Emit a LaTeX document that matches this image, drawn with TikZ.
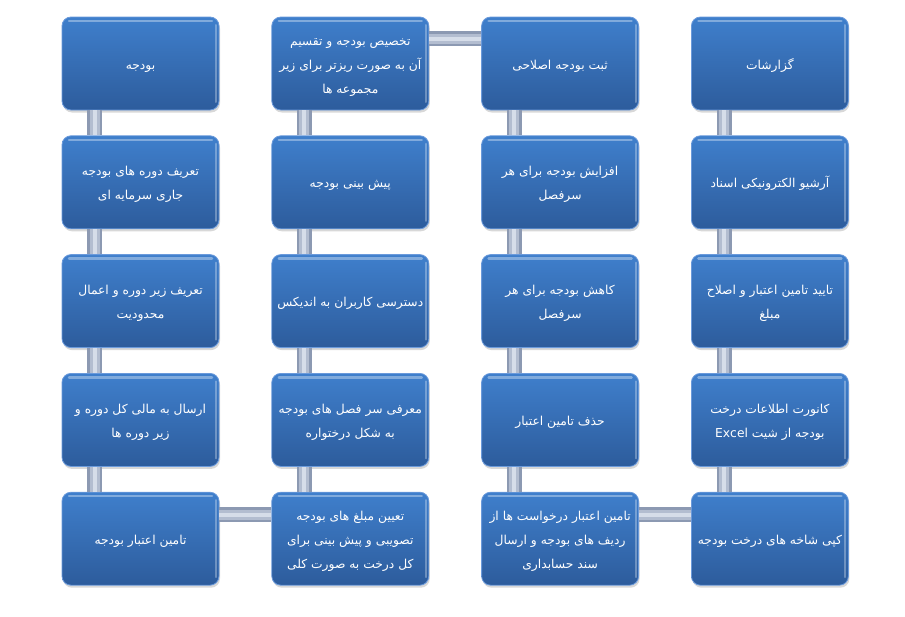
\documentclass[tikz,border=0pt]{standalone}
\usepackage{fontspec}
\usepackage{tikz}
\usepackage{xcolor}
\usetikzlibrary{positioning,shadows}
\newfontfamily\farsifont[Script=Arabic]{DejaVu Sans}
\TeXXeTstate=1
\definecolor{boxtop}{HTML}{3F7FCC}
\definecolor{boxbottom}{HTML}{2D5C9C}
\definecolor{boxrim}{HTML}{6B9ADB}
\definecolor{pipeedge}{HTML}{8C99B2}
\definecolor{pipebody}{HTML}{B3BDD0}
\definecolor{pipeshine}{HTML}{D6DDE9}
\newcommand{\fa}[1]{\rule[-4pt]{0pt}{19pt}\beginR #1\endR}

\begin{document}
\begin{tikzpicture}[
      x=1pt,y=1pt,
      stagebox/.style={draw=boxrim,line width=0.8pt,rounded corners=9pt,
                   top color=boxtop,bottom color=boxbottom,
                   minimum width=157pt,minimum height=93pt,inner sep=2pt,
                   align=center,text=white,
                   font=\farsifont\fontsize{12.3}{24}\selectfont,
                   drop shadow={opacity=0.3,shadow xshift=1pt,shadow yshift=-2.5pt},
                   path picture={
                     \draw[white,opacity=0.35,line width=2.5pt,line cap=round]
                       ([xshift=7pt,yshift=-4pt]path picture bounding box.north west) --
                       ([xshift=-7pt,yshift=-4pt]path picture bounding box.north east);
                     \draw[white,opacity=0.3,line width=2pt,line cap=round]
                       ([xshift=-3pt,yshift=-8pt]path picture bounding box.north east) --
                       ([xshift=-3pt,yshift=8pt]path picture bounding box.south east);}},
      pipe/.style={line width=15pt,draw=pipeedge,
                   postaction={draw=pipebody,line width=10pt},
                   postaction={draw=pipeshine,line width=4pt}}
    ]
    \useasboundingbox[fill=white] (0,0) rectangle (905,-616);
    % first column, top to bottom
    \node[stagebox] (c1r1) at (140.5,-63.5) {\fa{بودجه}};
    \node[stagebox,below=25pt of c1r1] (c1r2)
      {\fa{تعریف دوره های بودجه}\\\fa{جاری سرمایه ای}};
    \node[stagebox,below=25pt of c1r2] (c1r3)
      {\fa{تعریف زیر دوره و اعمال}\\\fa{محدودیت}};
    \node[stagebox,below=25pt of c1r3] (c1r4)
      {\fa{ارسال به مالی کل دوره و}\\\fa{زیر دوره ها}};
    \node[stagebox,below=25pt of c1r4] (c1r5) {\fa{تامین اعتبار بودجه}};
    % second column
    \node[stagebox,right=52pt of c1r1] (c2r1)
      {\fa{تخصیص بودجه و تقسیم}\\\fa{آن به صورت ریزتر برای زیر}\\\fa{مجموعه ها}};
    \node[stagebox,below=25pt of c2r1] (c2r2) {\fa{پیش بینی بودجه}};
    \node[stagebox,below=25pt of c2r2] (c2r3) {\fa{دسترسی کاربران به اندیکس}};
    \node[stagebox,below=25pt of c2r3] (c2r4)
      {\fa{معرفی سر فصل های بودجه}\\\fa{به شکل درختواره}};
    \node[stagebox,below=25pt of c2r4] (c2r5)
      {\fa{تعیین مبلغ های بودجه}\\\fa{تصویبی و پیش بینی برای}\\\fa{کل درخت به صورت کلی}};
    % third column
    \node[stagebox,right=52pt of c2r1] (c3r1) {\fa{ثبت بودجه اصلاحی}};
    \node[stagebox,below=25pt of c3r1] (c3r2)
      {\fa{افزایش بودجه برای هر}\\\fa{سرفصل}};
    \node[stagebox,below=25pt of c3r2] (c3r3)
      {\fa{کاهش بودجه برای هر}\\\fa{سرفصل}};
    \node[stagebox,below=25pt of c3r3] (c3r4) {\fa{حذف تامین اعتبار}};
    \node[stagebox,below=25pt of c3r4] (c3r5)
      {\fa{تامین اعتبار درخواست ها از}\\\fa{ردیف های بودجه و ارسال}\\\fa{سند حسابداری}};
    % fourth column
    \node[stagebox,right=52pt of c3r1] (c4r1) {\fa{گزارشات}};
    \node[stagebox,below=25pt of c4r1] (c4r2) {\fa{آرشیو الکترونیکی اسناد}};
    \node[stagebox,below=25pt of c4r2] (c4r3)
      {\fa{تایید تامین اعتبار و اصلاح}\\\fa{مبلغ}};
    \node[stagebox,below=25pt of c4r3] (c4r4)
      {\fa{کانورت اطلاعات درخت}\\\fa{بودجه از شیت \beginL Excel\endL}};
    \node[stagebox,below=25pt of c4r4] (c4r5) {\fa{کپی شاخه های درخت بودجه}};
    % pipes
    \draw[pipe] ([xshift=33pt]c1r1.south west) -- ([xshift=33pt]c1r2.north west);
    \draw[pipe] ([xshift=33pt]c1r2.south west) -- ([xshift=33pt]c1r3.north west);
    \draw[pipe] ([xshift=33pt]c1r3.south west) -- ([xshift=33pt]c1r4.north west);
    \draw[pipe] ([xshift=33pt]c1r4.south west) -- ([xshift=33pt]c1r5.north west);
    \draw[pipe] ([yshift=-23pt]c1r5.north east) -- ([yshift=-23pt]c2r5.north west);
    \draw[pipe] ([xshift=33pt]c2r5.north west) -- ([xshift=33pt]c2r4.south west);
    \draw[pipe] ([xshift=33pt]c2r4.north west) -- ([xshift=33pt]c2r3.south west);
    \draw[pipe] ([xshift=33pt]c2r3.north west) -- ([xshift=33pt]c2r2.south west);
    \draw[pipe] ([xshift=33pt]c2r2.north west) -- ([xshift=33pt]c2r1.south west);
    \draw[pipe] ([yshift=-22pt]c2r1.north east) -- ([yshift=-22pt]c3r1.north west);
    \draw[pipe] ([xshift=33pt]c3r1.south west) -- ([xshift=33pt]c3r2.north west);
    \draw[pipe] ([xshift=33pt]c3r2.south west) -- ([xshift=33pt]c3r3.north west);
    \draw[pipe] ([xshift=33pt]c3r3.south west) -- ([xshift=33pt]c3r4.north west);
    \draw[pipe] ([xshift=33pt]c3r4.south west) -- ([xshift=33pt]c3r5.north west);
    \draw[pipe] ([yshift=-23pt]c3r5.north east) -- ([yshift=-23pt]c4r5.north west);
    \draw[pipe] ([xshift=33pt]c4r5.north west) -- ([xshift=33pt]c4r4.south west);
    \draw[pipe] ([xshift=33pt]c4r4.north west) -- ([xshift=33pt]c4r3.south west);
    \draw[pipe] ([xshift=33pt]c4r3.north west) -- ([xshift=33pt]c4r2.south west);
    \draw[pipe] ([xshift=33pt]c4r2.north west) -- ([xshift=33pt]c4r1.south west);
  \end{tikzpicture}
\end{document}
